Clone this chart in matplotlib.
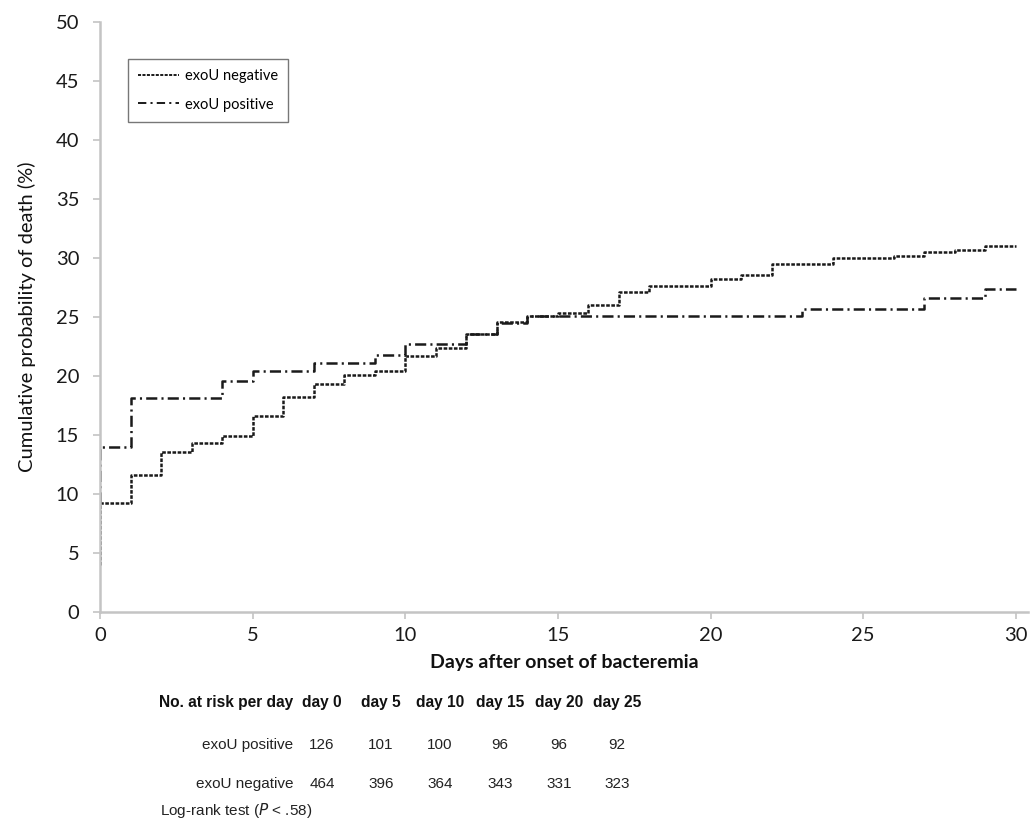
import matplotlib
matplotlib.use("Agg")
import matplotlib.pyplot as plt
from matplotlib.lines import Line2D

# ---------------- data ----------------
neg_days = [0, 0, 1, 2, 3, 4, 5, 6, 7, 8, 9, 10, 11, 12, 13, 14, 15, 16, 17, 18,
            20, 21, 22, 24, 26, 27, 28, 29, 30]
neg_vals = [4.0, 9.2, 11.6, 13.6, 14.3, 14.9, 16.6, 18.2, 19.3, 20.1, 20.4, 21.7,
            22.4, 23.6, 24.6, 25.1, 25.3, 26.0, 27.1, 27.6, 28.2, 28.6, 29.5, 30.0,
            30.2, 30.5, 30.7, 31.0, 31.0]

pos_days = [0, 0, 1, 4, 5, 7, 9, 10, 12, 13, 14, 23, 27, 29, 30]
pos_vals = [9.2, 14.0, 18.1, 19.6, 20.4, 21.1, 21.8, 22.7, 23.6, 24.5, 25.1, 25.7,
            26.6, 27.4, 27.4]

series_labels = ["exoU negative", "exoU positive"]
x_ticks = [0, 5, 10, 15, 20, 25, 30]
y_ticks = [0, 5, 10, 15, 20, 25, 30, 35, 40, 45, 50]

risk_header = "No. at risk per day"
risk_days = ["day 0", "day 5", "day 10", "day 15", "day 20", "day 25"]
risk_rows = ["exoU positive", "exoU negative"]
risk_pos = [126, 101, 100, 96, 96, 92]
risk_neg = [464, 396, 364, 343, 331, 323]
footnote_pre = "Log-rank test ("
footnote_p = "P"
footnote_post = " < .58)"

# ---------------- style ----------------
plt.rcParams['lines.scale_dashes'] = False
W, H = 1036, 819
fig = plt.figure(figsize=(W / 100, H / 100), dpi=100)
ax = fig.add_axes([100 / W, 1 - 612 / H, 928 / W, 590 / H])

axis_font = ['Lato', 'DejaVu Sans']
table_font = ['Liberation Sans Narrow', 'Liberation Sans', 'DejaVu Sans']
line_col = '#1a1a1a'
spine_col = '#c4c4c4'

ax.step(neg_days, neg_vals, where='post', color=line_col, lw=1.8,
        dashes=(2.6, 1.1), label=series_labels[0])
ax.step(pos_days, pos_vals, where='post', color=line_col, lw=1.8,
        dashes=(8, 3, 1.5, 3), label=series_labels[1])

ax.set_xlim(0, 30.4)
ax.set_ylim(0, 50)
ax.set_xticks(x_ticks)
ax.set_yticks(y_ticks)

for s in ['top', 'right']:
    ax.spines[s].set_visible(False)
for s in ['left', 'bottom']:
    ax.spines[s].set_color(spine_col)
    ax.spines[s].set_linewidth(1.8)

ax.tick_params(axis='both', colors=spine_col, labelcolor='#1a1a1a',
               labelsize=14.5, length=5, width=1.2)
ax.tick_params(axis='x', pad=6)
ax.tick_params(axis='y', pad=10)
for lab in ax.get_xticklabels() + ax.get_yticklabels():
    lab.set_family(axis_font)

ax.set_xlabel("Days after onset of bacteremia", fontsize=14, family=axis_font,
              fontweight='bold', color='#111111', labelpad=7)
ax.set_ylabel("Cumulative probability of death (%)", fontsize=14.5,
              family=axis_font, color='#111111', labelpad=14)

leg_handles = [
    Line2D([], [], color=line_col, lw=1.4, dashes=(2.2, 1.0)),
    Line2D([], [], color=line_col, lw=1.4, dashes=(6, 3, 1.5, 3)),
]
leg = ax.legend(leg_handles, series_labels, loc='upper left',
                bbox_to_anchor=(0.022, 0.95), frameon=True, fancybox=False,
                edgecolor='#555555', handlelength=2.8,
                handletextpad=0.4, labelspacing=1.0, borderpad=0.7,
                prop={'family': axis_font, 'size': 10.5})
leg.get_frame().set_linewidth(1.0)

# ---------------- risk table ----------------
def fx(px):
    return px / W

def fy(py):
    return 1 - py / H

col_x = [322, 381, 440, 500, 559, 617]
label_right = 293
fig.text(fx(label_right), fy(702), risk_header, ha='right', va='center',
         fontsize=11.2, fontweight='bold', family=table_font, color='#111111')
for cx, d in zip(col_x, risk_days):
    fig.text(fx(cx), fy(702), d, ha='center', va='center', fontsize=11.2,
             fontweight='bold', family=table_font, color='#111111')

for row_y, name, vals in [(745, risk_rows[0], risk_pos), (784, risk_rows[1], risk_neg)]:
    fig.text(fx(label_right), fy(row_y), name, ha='right', va='center',
             fontsize=11, family=table_font, color='#222222')
    for cx, v in zip(col_x, vals):
        fig.text(fx(cx), fy(row_y), str(v), ha='center', va='center',
                 fontsize=11, family=table_font, color='#222222')

fig.text(fx(160), fy(811), footnote_pre + r"$\it{" + footnote_p + "}$" + footnote_post,
         ha='left', va='center', fontsize=11, family=table_font, color='#222222')

fig.savefig("out.png", dpi=100)
